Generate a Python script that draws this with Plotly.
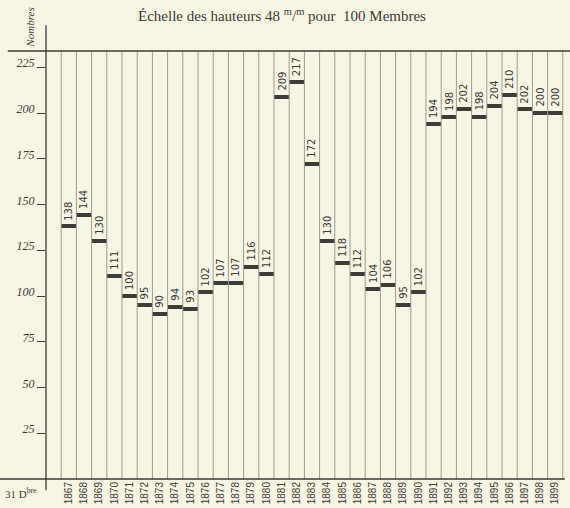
import plotly.graph_objects as go

# Nombre de membres au 31 décembre, 1867-1899
years = [str(y) for y in range(1867, 1900)]
members = [138, 144, 130, 111, 100, 95, 90, 94, 93, 102, 107, 107, 116, 112,
           209, 217, 172, 130, 118, 112, 104, 106, 95, 102,
           194, 198, 202, 198, 204, 210, 202, 200, 200]
y_ticks = [25, 50, 75, 100, 125, 150, 175, 200, 225]

PAPER = "#f7f5e4"
INK = "#3a3a34"
RULE = "#9c9b90"
MARK_H = 2.2  # thickness of the level mark, in members

idx = list(range(len(years)))

fig = go.Figure()
fig.add_trace(go.Bar(
    x=idx,
    y=[MARK_H] * len(members),
    base=[m - MARK_H / 2 for m in members],
    width=1,
    marker=dict(color="#3d3d37", line=dict(width=0)),
    hoverinfo="skip",
))

# column rules
shapes = []
for k in range(len(years) + 1):
    shapes.append(dict(type="line", xref="x", yref="y domain", x0=k - 0.5, x1=k - 0.5,
                       y0=0, y1=1, line=dict(color=RULE, width=1)))
# frame lines
shapes += [
    dict(type="line", xref="paper", yref="paper", x0=-0.073, x1=1, y0=1, y1=1,
         line=dict(color=INK, width=1.3)),
    dict(type="line", xref="paper", yref="paper", x0=-0.09, x1=0.99, y0=0, y1=0,
         line=dict(color=INK, width=1.3)),
    dict(type="line", xref="paper", yref="paper", x0=0, x1=0, y0=-0.026, y1=1.06,
         line=dict(color=INK, width=1.3)),
]

annotations = []
for i, m in zip(idx, members):
    annotations.append(dict(
        x=i, y=m + MARK_H / 2, xref="x", yref="y", text=str(m), showarrow=False,
        textangle=-90, xanchor="center", yanchor="bottom", yshift=2,
        font=dict(family="DejaVu Sans", size=10, color=INK),
    ))
annotations += [
    dict(x=0.45, y=1.085, xref="paper", yref="paper", showarrow=False,
         text="Échelle des hauteurs 48 <sup>m</sup>/<sup>m</sup> pour  100 Membres",
         font=dict(family="Liberation Serif", size=15, color=INK),
         xanchor="center", yanchor="middle"),
    dict(x=-0.031, y=1.054, xref="paper", yref="paper", showarrow=False,
         text="Nombres", textangle=-90,
         font=dict(family="Liberation Serif", size=11, color=INK, style="italic"),
         xanchor="center", yanchor="middle"),
    dict(x=-0.083, y=-0.012, xref="paper", yref="paper", showarrow=False,
         text="31 D<sup>bre</sup>", xanchor="left", yanchor="top",
         font=dict(family="Liberation Serif", size=11, color=INK)),
]

fig.update_layout(
    width=570, height=508,
    margin=dict(l=46, r=0, t=51, b=29),
    paper_bgcolor=PAPER, plot_bgcolor=PAPER,
    showlegend=False,
    bargap=0,
    shapes=shapes,
    annotations=annotations,
    xaxis=dict(
        range=[-1.5, -1.5 + 524 / 15.2],
        tickmode="array", tickvals=idx, ticktext=years, tickangle=-90,
        tickfont=dict(family="Liberation Sans", size=10, color=INK),
        ticklabelstandoff=0,
        showgrid=False, zeroline=False, showline=False, ticks="",
    ),
    yaxis=dict(
        range=[0, 428 / 1.83],
        tickmode="array", tickvals=y_ticks,
        tickfont=dict(family="Liberation Serif", size=12, color=INK, style="italic"),
        ticks="outside", ticklen=8, tickcolor=INK, tickwidth=1,
        ticklabelshift=-4,
        showgrid=False, zeroline=False, showline=False,
    ),
)

fig.write_html(
    "out.html",
    config={"displayModeBar": False},
    post_script="document.body.style.margin='0';document.body.style.background='%s';" % PAPER,
)
